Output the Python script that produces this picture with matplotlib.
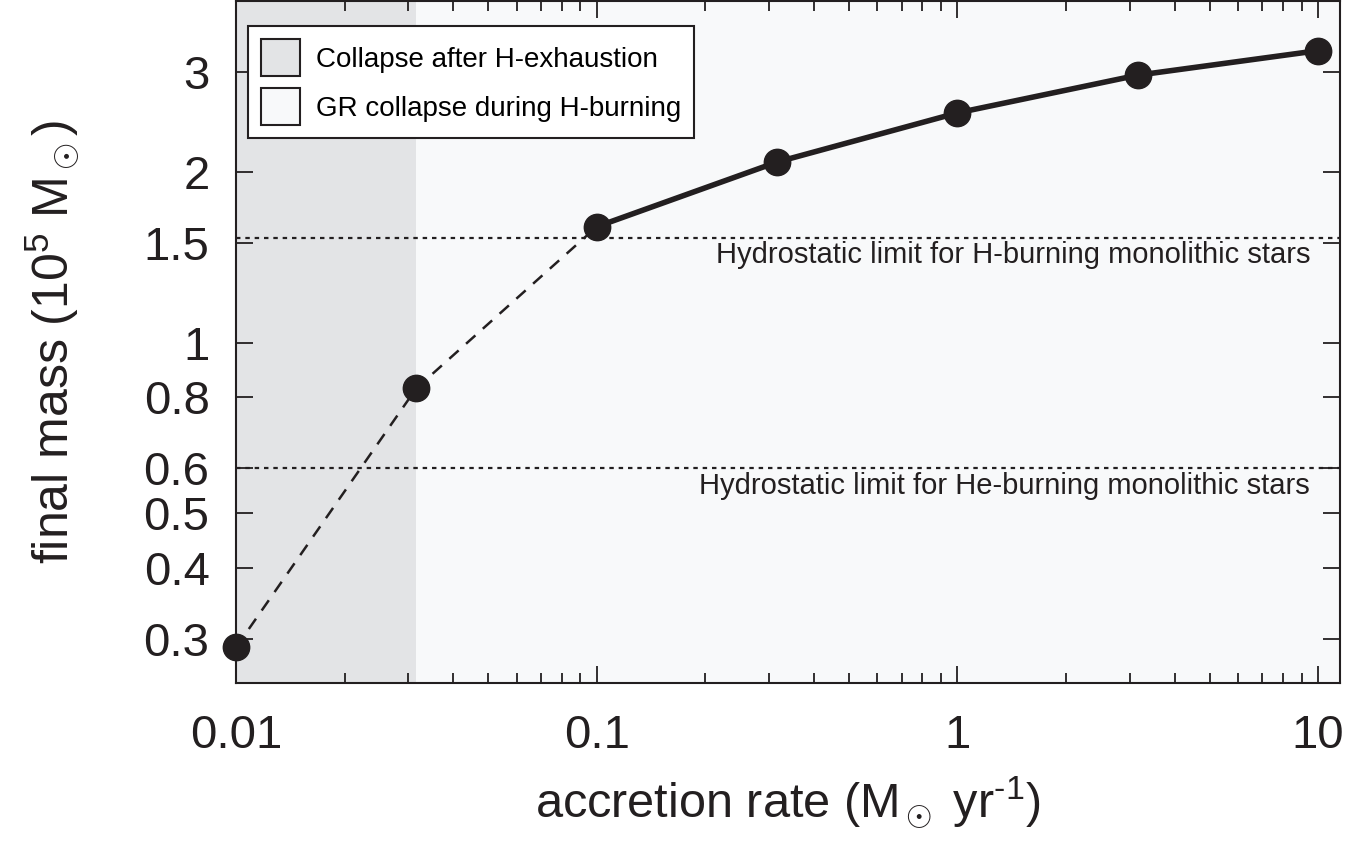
import matplotlib
matplotlib.use("Agg")
import matplotlib.pyplot as plt
from matplotlib.patches import Patch
from matplotlib.ticker import FixedLocator, FixedFormatter, LogLocator, NullFormatter

plt.rcParams['font.family'] = ['Liberation Sans', 'DejaVu Sans']
plt.rcParams['mathtext.fontset'] = 'custom'
plt.rcParams['mathtext.rm'] = 'Liberation Sans'
plt.rcParams['mathtext.it'] = 'Liberation Sans:italic'

# data
rate = [0.01, 0.0316, 0.1, 0.316, 1.0, 3.16, 10.0]
mass = [0.29, 0.83, 1.60, 2.08, 2.54, 2.96, 3.27]
h_limit = 1.53
he_limit = 0.60
shade_edge = 0.0316
yticks = [0.3, 0.4, 0.5, 0.6, 0.8, 1, 1.5, 2, 3]
ytick_labels = ['0.3', '0.4', '0.5', '0.6', '0.8', '1', '1.5', '2', '3']
xticks = [0.01, 0.1, 1, 10]
xtick_labels = ['0.01', '0.1', '1', '10']

ink = '#231f20'

fig = plt.figure(figsize=(13.5, 8.42), dpi=100)
ax = fig.add_axes([0.1748, 0.1888, 0.8178, 0.8100])
ax.set_xscale('log')
ax.set_yscale('log')
ax.set_xlim(0.01, 11.5)
ax.set_ylim(0.251, 4.0)

ax.axvspan(0.01, shade_edge, color='#e3e4e6', zorder=0, lw=0)
ax.axvspan(shade_edge, 11.5, color='#f8f9fa', zorder=0, lw=0)

ax.axhline(h_limit, color=ink, ls=(0, (2, 2.2)), lw=1.6, zorder=1)
ax.axhline(he_limit, color=ink, ls=(0, (2, 2.2)), lw=1.6, zorder=1)
ax.text(0.973, 0.648, 'Hydrostatic limit for H-burning monolithic stars',
        transform=ax.transAxes, ha='right', va='top', fontsize=21, color=ink)
ax.text(0.973, 0.310, 'Hydrostatic limit for He-burning monolithic stars',
        transform=ax.transAxes, ha='right', va='top', fontsize=21, color=ink)

ax.plot(rate, mass, color=ink, ls=(0, (5, 4)), lw=1.8, zorder=2)
ax.plot(rate[2:], mass[2:], color=ink, lw=4.0, zorder=3)
ax.plot(rate, mass, 'o', color=ink, ms=19, zorder=4, clip_on=False)

ax.yaxis.set_major_locator(FixedLocator(yticks))
ax.yaxis.set_major_formatter(FixedFormatter(ytick_labels))
ax.yaxis.set_minor_locator(FixedLocator([]))
ax.xaxis.set_major_locator(FixedLocator(xticks))
ax.xaxis.set_major_formatter(FixedFormatter(xtick_labels))
ax.xaxis.set_minor_locator(LogLocator(base=10, subs=range(2, 10)))
ax.xaxis.set_minor_formatter(NullFormatter())

ax.tick_params(which='both', direction='in', top=True, right=True, color=ink, width=1.3)
ax.tick_params(which='major', length=12, labelsize=34, labelcolor=ink)
ax.tick_params(which='minor', length=7)
ax.tick_params(axis='x', which='major', pad=22)
ax.tick_params(axis='y', which='major', pad=19)
for s in ax.spines.values():
    s.set_linewidth(1.5)
    s.set_color(ink)

ax.set_xlabel('accretion rate (M$_\\odot$ yr$^{\u2010 1}$)', fontsize=35, color=ink, labelpad=12)
ax.set_ylabel(r'final mass (10$^5$ M$_\odot$)', fontsize=36, color=ink, labelpad=45)

handles = [Patch(facecolor='#e3e4e6', edgecolor=ink, lw=1.5, label='Collapse after H-exhaustion'),
           Patch(facecolor='#f8f9fa', edgecolor=ink, lw=1.5, label='GR collapse during H-burning')]
leg = ax.legend(handles=handles, loc='upper left', bbox_to_anchor=(0.011, 0.963),
                fontsize=20, fancybox=False, framealpha=1, edgecolor=ink,
                handlelength=1.4, handleheight=1.7, borderpad=0.45, labelspacing=0.42,
                handletextpad=0.6, borderaxespad=0)
leg.get_frame().set_linewidth(1.5)

fig.savefig('out.png', dpi=100)
